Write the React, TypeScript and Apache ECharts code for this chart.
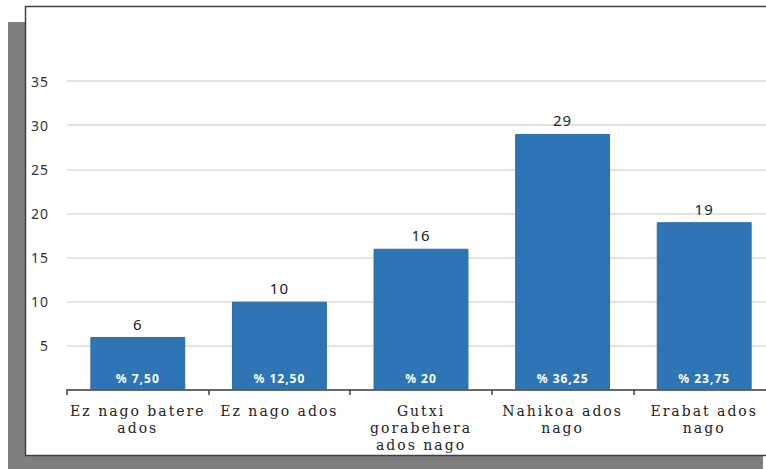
import React, { useEffect, useRef } from "react";
import * as echarts from "echarts";

const categories = [
  "Ez nago batere\nados",
  "Ez nago ados",
  "Gutxi\ngorabehera\nados nago",
  "Nahikoa ados\nnago",
  "Erabat ados\nnago",
];
const counts = [6, 10, 16, 29, 19];
const percentLabels = ["% 7,50", "% 12,50", "% 20", "% 36,25", "% 23,75"];
const yTicks = [5, 10, 15, 20, 25, 30, 35];

const css = `
#chartbox svg text[style*="Serif"] { letter-spacing: 2px; }
#chartbox svg text[style*="Noto"] { letter-spacing: 1px; }
`;

export default function App() {
  const ref = useRef<HTMLDivElement>(null);
  useEffect(() => {
    document.body.style.margin = "0";
    const chart = echarts.init(ref.current!, null, { renderer: "svg" });
    chart.setOption({
      animation: false,
      backgroundColor: "#ffffff",
      graphic: [
        {
          type: "rect",
          z: -10,
          shape: { x: 8, y: 22, width: 755, height: 447 },
          style: { fill: "#7f7f7f" },
          silent: true,
        },
        {
          type: "rect",
          z: -9,
          shape: { x: 25.5, y: 6.5, width: 745, height: 449 },
          style: { fill: "#ffffff", stroke: "#404040", lineWidth: 1.5 },
          silent: true,
        },
      ],
      grid: {
        left: 67,
        width: 708,
        top: 81,
        bottom: 79,
        containLabel: false,
        outerBoundsMode: "none",
      },
      xAxis: {
        type: "category",
        data: categories,
        axisLine: { show: true, lineStyle: { color: "#404040", width: 1.5 } },
        axisTick: { show: true, alignWithLabel: false, length: 5, lineStyle: { color: "#404040", width: 1.5 } },
        axisLabel: {
          interval: 0,
          margin: 12,
          fontFamily: "DejaVu Serif",
          fontSize: 14,
          lineHeight: 17,
          color: "#222222",
        },
      },
      yAxis: {
        type: "value",
        min: 0,
        max: 35,
        interval: 5,
        axisLine: { show: false },
        axisTick: { show: false },
        splitLine: { lineStyle: { color: "#d9d9d9", width: 1.5 } },
        axisLabel: {
          margin: 18,
          fontFamily: "Noto Sans",
          fontSize: 14,
          color: "#333333",
          formatter: (v: number) => (yTicks.includes(v) ? String(v) : ""),
        },
      },
      series: [
        {
          type: "bar",
          data: counts,
          barCategoryGap: "33%",
          itemStyle: { color: "#2e75b6", borderColor: "#2a6aa6", borderWidth: 1 },
          label: {
            show: true,
            position: "top",
            distance: 6,
            fontFamily: "Noto Sans",
            fontSize: 15,
            color: "#222222",
          },
        },
        {
          type: "bar",
          data: counts,
          barGap: "-100%",
          barCategoryGap: "33%",
          itemStyle: { color: "transparent" },
          silent: true,
          label: {
            show: true,
            position: "insideBottom",
            distance: 6,
            fontFamily: "Noto Sans",
            fontSize: 12,
            fontWeight: "bold",
            color: "#ffffff",
            formatter: (p: any) => percentLabels[p.dataIndex],
          },
        },
      ],
    });
    return () => chart.dispose();
  }, []);
  return (
    <div id="chartbox">
      <style>{css}</style>
      <div ref={ref} style={{ width: 766, height: 469 }} />
    </div>
  );
}
